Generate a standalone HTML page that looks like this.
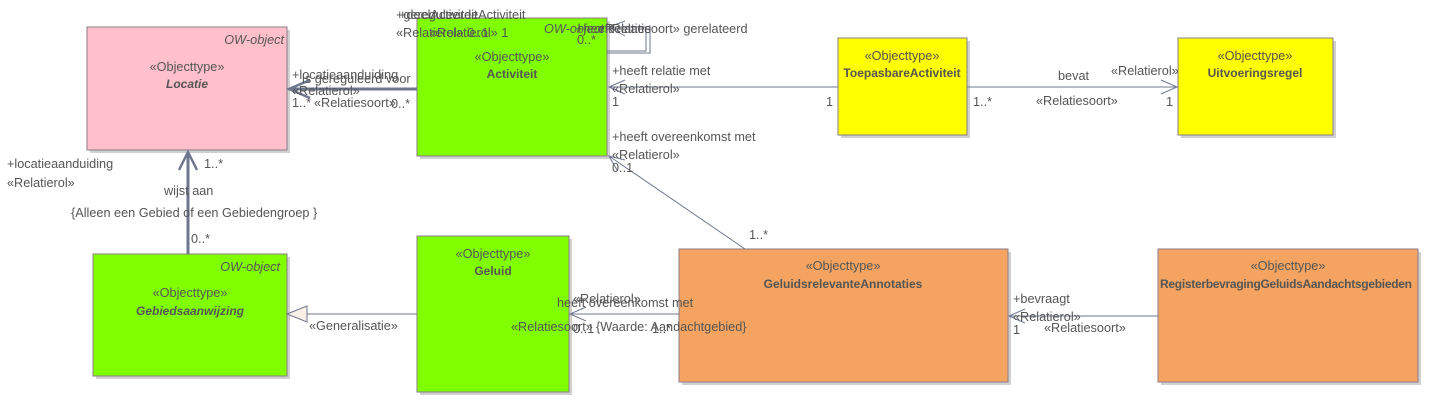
<!DOCTYPE html>
<html><head><meta charset="utf-8"><style>
body{margin:0;background:#fff;}
svg{display:block;font-family:"Liberation Sans",sans-serif;font-size:12.7px;fill:#555;}
.b{font-weight:bold;font-size:12px;}
.i{font-style:italic;}
</style></head><body>
<svg width="1435" height="409" viewBox="0 0 1435 409">
<g fill="#d0d0d0">
<rect x="90" y="30" width="200" height="123"/>
<rect x="420" y="21" width="190" height="138"/>
<rect x="841" y="41" width="129" height="97"/>
<rect x="1181" y="41" width="155" height="97"/>
<rect x="96" y="257" width="194" height="122"/>
<rect x="420" y="239" width="152" height="156"/>
<rect x="682" y="252" width="329" height="133"/>
<rect x="1161" y="252" width="260" height="133"/>
</g>
<g stroke="#8a7b8a" stroke-width="1">
<rect x="87" y="27" width="200" height="123" fill="#FFC0CB"/>
<rect x="417" y="18" width="190" height="138" fill="#80FF00"/>
<rect x="838" y="38" width="129" height="97" fill="#FFFF00"/>
<rect x="1178" y="38" width="155" height="97" fill="#FFFF00"/>
<rect x="93" y="254" width="194" height="122" fill="#80FF00"/>
<rect x="417" y="236" width="152" height="156" fill="#80FF00"/>
<rect x="679" y="249" width="329" height="133" fill="#F4A460"/>
<rect x="1158" y="249" width="260" height="133" fill="#F4A460"/>
</g>
<g stroke="#6f7790" fill="none">
<line x1="417" y1="89" x2="289" y2="89" stroke-width="3"/>
<polyline points="310,80 289,89 310,98" stroke-width="2.5"/>
<line x1="188" y1="254" x2="188" y2="152" stroke-width="3"/>
<polyline points="179,170 188,152 197,170" stroke-width="2.5"/>
<line x1="838" y1="87" x2="609" y2="87"/>
<polyline points="625,80 609,87 625,94"/>
<line x1="967" y1="87" x2="1177" y2="87"/>
<polyline points="1161,80 1177,87 1161,94"/>
<line x1="745" y1="249" x2="609" y2="156"/>
<polyline points="617,170 609,156 625,160"/>
<line x1="679" y1="314" x2="570" y2="314"/>
<polyline points="586,307 570,314 586,321"/>
<line x1="1158" y1="316" x2="1009" y2="316"/>
<polyline points="1025,309 1009,316 1025,323"/>
<line x1="417" y1="314" x2="307" y2="314"/>
<polyline points="607,51 646,51 646,27 609,27"/>
<polyline points="607,53 650,53 650,25"/>
<polyline points="625,21 609,27 625,36"/>
</g>
<polygon points="287,314 307,306 307,322" fill="#faf0e6" stroke="#6f7790"/>
<text x="284" y="44" text-anchor="end" class="i">OW-object</text>
<text x="187" y="71" text-anchor="middle">«Objecttype»</text>
<text x="187" y="88" text-anchor="middle" class="b i">Locatie</text>
<text x="512" y="61" text-anchor="middle">«Objecttype»</text>
<text x="512" y="78" text-anchor="middle" class="b">Activiteit</text>
<text x="902" y="60" text-anchor="middle">«Objecttype»</text>
<text x="902" y="77" text-anchor="middle" class="b">ToepasbareActiviteit</text>
<text x="1255" y="60" text-anchor="middle">«Objecttype»</text>
<text x="1255" y="77" text-anchor="middle" class="b">Uitvoeringsregel</text>
<text x="280" y="271" text-anchor="end" class="i">OW-object</text>
<text x="190" y="297" text-anchor="middle">«Objecttype»</text>
<text x="190" y="315" text-anchor="middle" class="b i">Gebiedsaanwijzing</text>
<text x="493" y="258" text-anchor="middle">«Objecttype»</text>
<text x="493" y="275" text-anchor="middle" class="b">Geluid</text>
<text x="843" y="270" text-anchor="middle">«Objecttype»</text>
<text x="843" y="288" text-anchor="middle" class="b">GeluidsrelevanteAnnotaties</text>
<text x="1286" y="288" text-anchor="middle" class="b" textLength="252">RegisterbevragingGeluidsAandachtsgebieden</text>
<text x="1288" y="270" text-anchor="middle">«Objecttype»</text>
<text x="396" y="19">+gereguleerdeActiviteit</text>
<text x="399" y="19">+deelActiviteit</text>
<text x="396" y="37">«Relatierol» 0..1</text>
<text x="430" y="37">«Relatierol» 1</text>
<text x="544" y="33" class="i">OW-object</text>
<text x="576" y="33">+heeftRelatie</text>
<text x="598" y="33">«Relatiesoort» gerelateerd</text>
<text x="577" y="44">0..*</text>
<text x="292" y="79">+locatieaanduiding</text>
<text x="302" y="83">is gereguleerd voor</text>
<text x="292" y="95">«Relatierol»</text>
<text x="292" y="107">1..*</text>
<text x="314" y="107">«Relatiesoort»</text>
<text x="391" y="108">0..*</text>
<text x="612" y="75">+heeft relatie met</text>
<text x="612" y="93">«Relatierol»</text>
<text x="612" y="106">1</text>
<text x="826" y="106">1</text>
<text x="1058" y="80">bevat</text>
<text x="1111" y="75">«Relatierol»</text>
<text x="973" y="106">1..*</text>
<text x="1036" y="105">«Relatiesoort»</text>
<text x="1166" y="106">1</text>
<text x="612" y="141">+heeft overeenkomst met</text>
<text x="612" y="159">«Relatierol»</text>
<text x="612" y="172">0..1</text>
<text x="749" y="239">1..*</text>
<text x="7" y="168">+locatieaanduiding</text>
<text x="7" y="187">«Relatierol»</text>
<text x="204" y="168">1..*</text>
<text x="164" y="195">wijst aan</text>
<text x="71" y="217">{Alleen een Gebied of een Gebiedengroep }</text>
<text x="191" y="243">0..*</text>
<text x="309" y="330">«Generalisatie»</text>
<text x="573" y="303">«Relatierol»</text>
<text x="557" y="307">heeft overeenkomst met</text>
<text x="511" y="331">«Relatiesoort»</text>
<text x="573" y="333">0..1</text>
<text x="596" y="331">{Waarde: Aandachtgebied}</text>
<text x="652" y="333">1..*</text>
<text x="1013" y="303">+bevraagt</text>
<text x="1013" y="321">«Relatierol»</text>
<text x="1013" y="334">1</text>
<text x="1044" y="332">«Relatiesoort»</text>
</svg>
</body></html>
